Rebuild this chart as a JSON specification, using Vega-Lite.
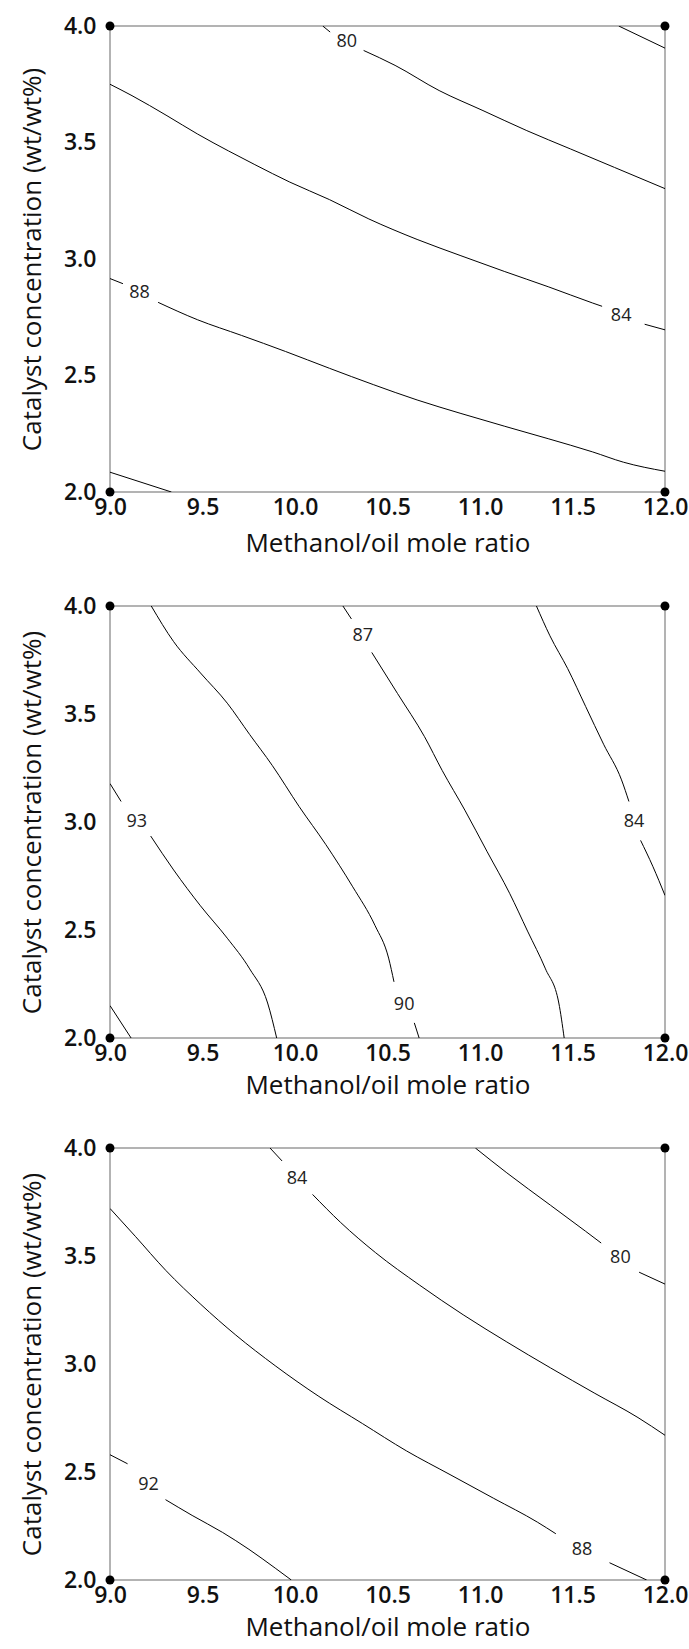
{
  "$schema": "https://vega.github.io/schema/vega-lite/v6.json",
  "padding": {"left": 18, "top": 14, "right": 5, "bottom": 5},
  "background": "white",
  "spacing": 37,
  "config": {
    "font": "Open Sans",
    "view": {"stroke": "#9a9a9a", "strokeWidth": 1.5},
    "axis": {"domain": false, "ticks": false, "tickSize": 0, "grid": false, "labelFontSize": 23, "labelFontWeight": 600, "labelColor": "#111111", "titleFontSize": 26, "titleFontWeight": "normal", "titleColor": "#111111", "labelFont": "Open Sans", "titleFont": "Open Sans", "labelFlush": false, "labelOverlap": false}
  },
  "datasets": {
    "corners": [{"x": 9, "y": 2}, {"x": 9, "y": 4}, {"x": 12, "y": 2}, {"x": 12, "y": 4}],
    "lines1": [
      {"s": "a", "i": 0, "x": 11.75, "y": 4.0}, {"s": "a", "i": 1, "x": 12.0, "y": 3.905},
      {"s": "b1", "i": 0, "x": 10.15, "y": 4.0}, {"s": "b1", "i": 1, "x": 10.19, "y": 3.974},
      {"s": "b2", "i": 0, "x": 10.371, "y": 3.895}, {"s": "b2", "i": 1, "x": 10.541, "y": 3.831}, {"s": "b2", "i": 2, "x": 10.779, "y": 3.723}, {"s": "b2", "i": 3, "x": 11.016, "y": 3.637}, {"s": "b2", "i": 4, "x": 11.253, "y": 3.551}, {"s": "b2", "i": 5, "x": 11.49, "y": 3.472}, {"s": "b2", "i": 6, "x": 11.727, "y": 3.393}, {"s": "b2", "i": 7, "x": 12.0, "y": 3.302},
      {"s": "c1", "i": 0, "x": 9.0, "y": 3.75}, {"s": "c1", "i": 1, "x": 9.119, "y": 3.701}, {"s": "c1", "i": 2, "x": 9.308, "y": 3.615}, {"s": "c1", "i": 3, "x": 9.474, "y": 3.536}, {"s": "c1", "i": 4, "x": 9.64, "y": 3.464}, {"s": "c1", "i": 5, "x": 9.783, "y": 3.405}, {"s": "c1", "i": 6, "x": 9.972, "y": 3.33}, {"s": "c1", "i": 7, "x": 10.186, "y": 3.255}, {"s": "c1", "i": 8, "x": 10.399, "y": 3.172}, {"s": "c1", "i": 9, "x": 10.66, "y": 3.084}, {"s": "c1", "i": 10, "x": 10.897, "y": 3.014}, {"s": "c1", "i": 11, "x": 11.134, "y": 2.946}, {"s": "c1", "i": 12, "x": 11.372, "y": 2.88}, {"s": "c1", "i": 13, "x": 11.609, "y": 2.811}, {"s": "c1", "i": 14, "x": 11.66, "y": 2.797},
      {"s": "c2", "i": 0, "x": 11.89, "y": 2.72}, {"s": "c2", "i": 1, "x": 12.0, "y": 2.696},
      {"s": "d1", "i": 0, "x": 9.0, "y": 2.916}, {"s": "d1", "i": 1, "x": 9.07, "y": 2.894},
      {"s": "d2", "i": 0, "x": 9.26, "y": 2.814}, {"s": "d2", "i": 1, "x": 9.474, "y": 2.739}, {"s": "d2", "i": 2, "x": 9.711, "y": 2.672}, {"s": "d2", "i": 3, "x": 9.949, "y": 2.603}, {"s": "d2", "i": 4, "x": 10.186, "y": 2.531}, {"s": "d2", "i": 5, "x": 10.423, "y": 2.461}, {"s": "d2", "i": 6, "x": 10.66, "y": 2.395}, {"s": "d2", "i": 7, "x": 10.897, "y": 2.337}, {"s": "d2", "i": 8, "x": 11.134, "y": 2.282}, {"s": "d2", "i": 9, "x": 11.372, "y": 2.228}, {"s": "d2", "i": 10, "x": 11.609, "y": 2.172}, {"s": "d2", "i": 11, "x": 11.775, "y": 2.128}, {"s": "d2", "i": 12, "x": 12.0, "y": 2.089},
      {"s": "e", "i": 0, "x": 9.0, "y": 2.085}, {"s": "e", "i": 1, "x": 9.332, "y": 2.0}
    ],
    "labels1": [{"x": 10.28, "y": 3.93, "t": "80"}, {"x": 11.763, "y": 2.755, "t": "84"}, {"x": 9.16, "y": 2.855, "t": "88"}],
    "lines2": [
      {"s": "a", "i": 0, "x": 9.0, "y": 2.15}, {"s": "a", "i": 1, "x": 9.114, "y": 2.0},
      {"s": "b1", "i": 0, "x": 9.0, "y": 3.178}, {"s": "b1", "i": 1, "x": 9.06, "y": 3.095},
      {"s": "b2", "i": 0, "x": 9.22, "y": 2.935}, {"s": "b2", "i": 1, "x": 9.344, "y": 2.778}, {"s": "b2", "i": 2, "x": 9.489, "y": 2.612}, {"s": "b2", "i": 3, "x": 9.634, "y": 2.462}, {"s": "b2", "i": 4, "x": 9.755, "y": 2.32}, {"s": "b2", "i": 5, "x": 9.852, "y": 2.162}, {"s": "b2", "i": 6, "x": 9.901, "y": 2.0},
      {"s": "c1", "i": 0, "x": 9.223, "y": 4.0}, {"s": "c1", "i": 1, "x": 9.344, "y": 3.835}, {"s": "c1", "i": 2, "x": 9.489, "y": 3.69}, {"s": "c1", "i": 3, "x": 9.634, "y": 3.55}, {"s": "c1", "i": 4, "x": 9.755, "y": 3.405}, {"s": "c1", "i": 5, "x": 9.877, "y": 3.262}, {"s": "c1", "i": 6, "x": 10.022, "y": 3.072}, {"s": "c1", "i": 7, "x": 10.167, "y": 2.895}, {"s": "c1", "i": 8, "x": 10.312, "y": 2.7}, {"s": "c1", "i": 9, "x": 10.433, "y": 2.52}, {"s": "c1", "i": 10, "x": 10.506, "y": 2.37}, {"s": "c1", "i": 11, "x": 10.535, "y": 2.26},
      {"s": "c2", "i": 0, "x": 10.645, "y": 2.07}, {"s": "c2", "i": 1, "x": 10.671, "y": 2.0},
      {"s": "d1", "i": 0, "x": 10.259, "y": 4.0}, {"s": "d1", "i": 1, "x": 10.305, "y": 3.94},
      {"s": "d2", "i": 0, "x": 10.415, "y": 3.785}, {"s": "d2", "i": 1, "x": 10.554, "y": 3.595}, {"s": "d2", "i": 2, "x": 10.7, "y": 3.395}, {"s": "d2", "i": 3, "x": 10.796, "y": 3.238}, {"s": "d2", "i": 4, "x": 10.918, "y": 3.055}, {"s": "d2", "i": 5, "x": 11.039, "y": 2.862}, {"s": "d2", "i": 6, "x": 11.16, "y": 2.67}, {"s": "d2", "i": 7, "x": 11.257, "y": 2.495}, {"s": "d2", "i": 8, "x": 11.354, "y": 2.32}, {"s": "d2", "i": 9, "x": 11.426, "y": 2.162}, {"s": "d2", "i": 10, "x": 11.455, "y": 2.0},
      {"s": "e1", "i": 0, "x": 11.305, "y": 4.0}, {"s": "e1", "i": 1, "x": 11.378, "y": 3.862}, {"s": "e1", "i": 2, "x": 11.474, "y": 3.71}, {"s": "e1", "i": 3, "x": 11.571, "y": 3.535}, {"s": "e1", "i": 4, "x": 11.668, "y": 3.36}, {"s": "e1", "i": 5, "x": 11.765, "y": 3.195}, {"s": "e1", "i": 6, "x": 11.805, "y": 3.095},
      {"s": "e2", "i": 0, "x": 11.868, "y": 2.915}, {"s": "e2", "i": 1, "x": 11.934, "y": 2.795}, {"s": "e2", "i": 2, "x": 12.0, "y": 2.66}
    ],
    "labels2": [{"x": 9.145, "y": 3.0, "t": "93"}, {"x": 10.59, "y": 2.153, "t": "90"}, {"x": 10.366, "y": 3.862, "t": "87"}, {"x": 11.833, "y": 3.0, "t": "84"}],
    "lines3": [
      {"s": "a1", "i": 0, "x": 9.0, "y": 2.58}, {"s": "a1", "i": 1, "x": 9.095, "y": 2.538},
      {"s": "a2", "i": 0, "x": 9.3, "y": 2.372}, {"s": "a2", "i": 1, "x": 9.444, "y": 2.299}, {"s": "a2", "i": 2, "x": 9.609, "y": 2.22}, {"s": "a2", "i": 3, "x": 9.751, "y": 2.142}, {"s": "a2", "i": 4, "x": 9.893, "y": 2.055}, {"s": "a2", "i": 5, "x": 9.98, "y": 2.0},
      {"s": "b1", "i": 0, "x": 9.0, "y": 3.72}, {"s": "b1", "i": 1, "x": 9.137, "y": 3.591}, {"s": "b1", "i": 2, "x": 9.302, "y": 3.433}, {"s": "b1", "i": 3, "x": 9.491, "y": 3.276}, {"s": "b1", "i": 4, "x": 9.68, "y": 3.134}, {"s": "b1", "i": 5, "x": 9.893, "y": 2.992}, {"s": "b1", "i": 6, "x": 10.129, "y": 2.85}, {"s": "b1", "i": 7, "x": 10.365, "y": 2.724}, {"s": "b1", "i": 8, "x": 10.602, "y": 2.598}, {"s": "b1", "i": 9, "x": 10.838, "y": 2.488}, {"s": "b1", "i": 10, "x": 11.074, "y": 2.378}, {"s": "b1", "i": 11, "x": 11.31, "y": 2.268}, {"s": "b1", "i": 12, "x": 11.41, "y": 2.214},
      {"s": "b2", "i": 0, "x": 11.7, "y": 2.08}, {"s": "b2", "i": 1, "x": 11.901, "y": 2.0},
      {"s": "c1", "i": 0, "x": 9.865, "y": 4.0}, {"s": "c1", "i": 1, "x": 9.93, "y": 3.94},
      {"s": "c2", "i": 0, "x": 10.095, "y": 3.785}, {"s": "c2", "i": 1, "x": 10.247, "y": 3.655}, {"s": "c2", "i": 2, "x": 10.436, "y": 3.515}, {"s": "c2", "i": 3, "x": 10.672, "y": 3.366}, {"s": "c2", "i": 4, "x": 10.909, "y": 3.228}, {"s": "c2", "i": 5, "x": 11.145, "y": 3.102}, {"s": "c2", "i": 6, "x": 11.381, "y": 2.982}, {"s": "c2", "i": 7, "x": 11.617, "y": 2.866}, {"s": "c2", "i": 8, "x": 11.854, "y": 2.752}, {"s": "c2", "i": 9, "x": 12.0, "y": 2.67},
      {"s": "d1", "i": 0, "x": 10.975, "y": 4.0}, {"s": "d1", "i": 1, "x": 11.145, "y": 3.885}, {"s": "d1", "i": 2, "x": 11.381, "y": 3.735}, {"s": "d1", "i": 3, "x": 11.57, "y": 3.615}, {"s": "d1", "i": 4, "x": 11.655, "y": 3.56},
      {"s": "d2", "i": 0, "x": 11.86, "y": 3.425}, {"s": "d2", "i": 1, "x": 12.0, "y": 3.37}
    ],
    "labels3": [{"x": 9.208, "y": 2.441, "t": "92"}, {"x": 11.551, "y": 2.137, "t": "88"}, {"x": 10.011, "y": 3.858, "t": "84"}, {"x": 11.759, "y": 3.491, "t": "80"}]
  },
  "vconcat": [
    {
      "width": 555, "height": 466,
      "layer": [
        {"data": {"name": "lines1"}, "mark": {"type": "line", "color": "#000000", "strokeWidth": 1, "clip": true, "interpolate": "monotone"},
         "encoding": {
           "x": {"field": "x", "type": "quantitative", "scale": {"domain": [9, 12], "nice": false, "zero": false}, "axis": {"title": "Methanol/oil mole ratio", "values": [9, 9.5, 10, 10.5, 11, 11.5, 12], "format": ".1f", "labelPadding": 4, "titlePadding": 11}},
           "y": {"field": "y", "type": "quantitative", "scale": {"domain": [2, 4], "nice": false, "zero": false}, "axis": {"title": "Catalyst concentration (wt/wt%)", "values": [2, 2.5, 3, 3.5, 4], "format": ".1f", "labelPadding": 14, "titlePadding": 18}},
           "detail": {"field": "s"}, "order": {"field": "i", "type": "quantitative"}}},
        {"data": {"name": "labels1"}, "mark": {"type": "text", "fontSize": 18, "color": "#222222", "font": "Open Sans"},
         "encoding": {"x": {"field": "x", "type": "quantitative"}, "y": {"field": "y", "type": "quantitative"}, "text": {"field": "t"}}},
        {"data": {"name": "corners"}, "mark": {"type": "point", "filled": true, "color": "#000000", "size": 80, "opacity": 1, "clip": false},
         "encoding": {"x": {"field": "x", "type": "quantitative"}, "y": {"field": "y", "type": "quantitative"}}}
      ]
    },
    {
      "width": 555, "height": 432,
      "layer": [
        {"data": {"name": "lines2"}, "mark": {"type": "line", "color": "#000000", "strokeWidth": 1, "clip": true, "interpolate": "monotone"},
         "encoding": {
           "x": {"field": "x", "type": "quantitative", "scale": {"domain": [9, 12], "nice": false, "zero": false}, "axis": {"title": "Methanol/oil mole ratio", "values": [9, 9.5, 10, 10.5, 11, 11.5, 12], "format": ".1f", "labelPadding": 4, "titlePadding": 7}},
           "y": {"field": "y", "type": "quantitative", "scale": {"domain": [2, 4], "nice": false, "zero": false}, "axis": {"title": "Catalyst concentration (wt/wt%)", "values": [2, 2.5, 3, 3.5, 4], "format": ".1f", "labelPadding": 14, "titlePadding": 18}},
           "detail": {"field": "s"}, "order": {"field": "i", "type": "quantitative"}}},
        {"data": {"name": "labels2"}, "mark": {"type": "text", "fontSize": 18, "color": "#222222", "font": "Open Sans"},
         "encoding": {"x": {"field": "x", "type": "quantitative"}, "y": {"field": "y", "type": "quantitative"}, "text": {"field": "t"}}},
        {"data": {"name": "corners"}, "mark": {"type": "point", "filled": true, "color": "#000000", "size": 80, "opacity": 1, "clip": false},
         "encoding": {"x": {"field": "x", "type": "quantitative"}, "y": {"field": "y", "type": "quantitative"}}}
      ]
    },
    {
      "width": 555, "height": 432,
      "layer": [
        {"data": {"name": "lines3"}, "mark": {"type": "line", "color": "#000000", "strokeWidth": 1, "clip": true, "interpolate": "monotone"},
         "encoding": {
           "x": {"field": "x", "type": "quantitative", "scale": {"domain": [9, 12], "nice": false, "zero": false}, "axis": {"title": "Methanol/oil mole ratio", "values": [9, 9.5, 10, 10.5, 11, 11.5, 12], "format": ".1f", "labelPadding": 4, "titlePadding": 7}},
           "y": {"field": "y", "type": "quantitative", "scale": {"domain": [2, 4], "nice": false, "zero": false}, "axis": {"title": "Catalyst concentration (wt/wt%)", "values": [2, 2.5, 3, 3.5, 4], "format": ".1f", "labelPadding": 14, "titlePadding": 18}},
           "detail": {"field": "s"}, "order": {"field": "i", "type": "quantitative"}}},
        {"data": {"name": "labels3"}, "mark": {"type": "text", "fontSize": 18, "color": "#222222", "font": "Open Sans"},
         "encoding": {"x": {"field": "x", "type": "quantitative"}, "y": {"field": "y", "type": "quantitative"}, "text": {"field": "t"}}},
        {"data": {"name": "corners"}, "mark": {"type": "point", "filled": true, "color": "#000000", "size": 80, "opacity": 1, "clip": false},
         "encoding": {"x": {"field": "x", "type": "quantitative"}, "y": {"field": "y", "type": "quantitative"}}}
      ]
    }
  ]
}
